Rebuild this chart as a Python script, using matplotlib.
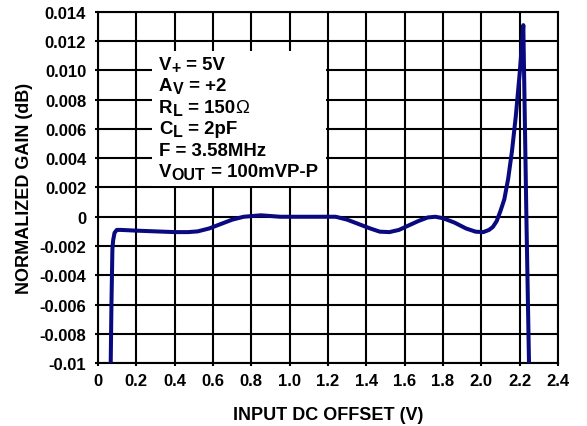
import matplotlib
matplotlib.use("Agg")
import matplotlib.pyplot as plt
from matplotlib.patches import Rectangle

plt.rcParams['font.family'] = ['Liberation Sans', 'DejaVu Sans']

# Data
offset_v = [0.066, 0.070, 0.075, 0.079, 0.086, 0.098, 0.12, 0.20, 0.30, 0.40,
            0.47, 0.52, 0.58, 0.64, 0.70, 0.76, 0.85, 0.95, 1.05, 1.15,
            1.24, 1.30, 1.36, 1.42, 1.47, 1.52, 1.57, 1.62, 1.67, 1.72,
            1.76, 1.80, 1.86, 1.92, 1.97, 2.01, 2.04, 2.06, 2.08, 2.10,
            2.12, 2.14, 2.16, 2.18, 2.20, 2.21, 2.219, 2.235, 2.249]
gain_db = [-0.0102, -0.0060, -0.0022, -0.0016, -0.0011, -0.0009, -0.0009, -0.00095, -0.0010, -0.00105,
           -0.00105, -0.0010, -0.0008, -0.0005, -0.0002, 0.0000, 0.0001, 0.0000, 0.0000, 0.0000,
           0.0000, -0.0002, -0.0005, -0.0008, -0.00102, -0.00105, -0.0009, -0.0006, -0.0003, -0.00005,
           0.0000, -0.0001, -0.0004, -0.0008, -0.00102, -0.00105, -0.0009, -0.0007, -0.0003, 0.0004,
           0.0012, 0.0026, 0.0045, 0.0069, 0.0098, 0.0115, 0.0131, 0.0000, -0.0102]

x_ticks = [0, 0.2, 0.4, 0.6, 0.8, 1.0, 1.2, 1.4, 1.6, 1.8, 2.0, 2.2, 2.4]
x_tick_labels = ['0', '0.2', '0.4', '0.6', '0.8', '1.0', '1.2', '1.4', '1.6', '1.8', '2.0', '2.2', '2.4']
y_ticks = [0.014, 0.012, 0.010, 0.008, 0.006, 0.004, 0.002, 0, -0.002, -0.004, -0.006, -0.008, -0.010]
y_tick_labels = ['0.014', '0.012', '0.010', '0.008', '0.006', '0.004', '0.002', '0',
                 '-0.002', '-0.004', '-0.006', '-0.008', '-0.01']

# Condition lines: (text, kind) with kind 'n' normal, 's' subscript, 'g' symbol glyph
conditions = [
    [('V', 'n'), ('+', 's'), (' = 5V', 'n')],
    [('A', 'n'), ('V', 's'), (' = +2', 'n')],
    [('R', 'n'), ('L', 's'), (' = 150', 'n'), ('\u03a9', 'g')],
    [('C', 'n'), ('L', 's'), (' = 2pF', 'n')],
    [('F = 3.58MHz', 'n')],
    [('V', 'n'), ('OUT', 's'), (' = 100mVP-P', 'n')],
]

fig = plt.figure(figsize=(5.87, 4.27), dpi=100)
ax = fig.add_axes([0.1670, 0.1475, 0.7836, 0.8221])
ax.set_xlim(0, 2.4)
ax.set_ylim(-0.01, 0.014)
ax.set_xticks(x_ticks)
ax.set_xticklabels(x_tick_labels)
ax.set_yticks(y_ticks)
ax.set_yticklabels(y_tick_labels)
ax.grid(True, color='black', linewidth=1.5, zorder=1)
for s in ax.spines.values():
    s.set_linewidth(1.5)
    s.set_color('black')
ax.tick_params(direction='out', length=2.5, width=1.5, labelsize=12)
ax.tick_params(axis='x', pad=4.5)
ax.tick_params(axis='y', pad=6)
for lab in ax.get_xticklabels() + ax.get_yticklabels():
    lab.set_fontweight('bold')

ax.add_patch(Rectangle((0.282, 0.00212), 0.907, 0.00921, facecolor='white',
                       edgecolor='none', zorder=2))

line_gap = 0.001463
for i, parts in enumerate(conditions):
    yb = 0.0101 - i * line_gap
    prev = None
    for text, kind in parts:
        size = 11.5 if kind == 's' else 13.4
        weight = 'normal' if kind == 'g' else 'bold'
        dy = -2.0 if kind == 's' else 0
        if prev is None:
            prev = ax.text(0.318, yb, text, fontsize=size, fontweight=weight,
                           va='baseline', ha='left', zorder=3)
        else:
            prev = ax.annotate(text, xy=(1, yb), xycoords=(prev, 'data'),
                               xytext=(0.3, dy), textcoords='offset points',
                               fontsize=size, fontweight=weight,
                               va='baseline', ha='left', zorder=3)

ax.plot(offset_v, gain_db, color='#0a0a80', linewidth=2.9, zorder=4,
        solid_joinstyle='round', solid_capstyle='butt', clip_on=True)

ax.set_xlabel('INPUT DC OFFSET (V)', fontsize=13, fontweight='bold', labelpad=13)
ax.set_ylabel('NORMALIZED GAIN (dB)', fontsize=13, fontweight='bold', labelpad=5)

fig.savefig('out.png', dpi=100)
